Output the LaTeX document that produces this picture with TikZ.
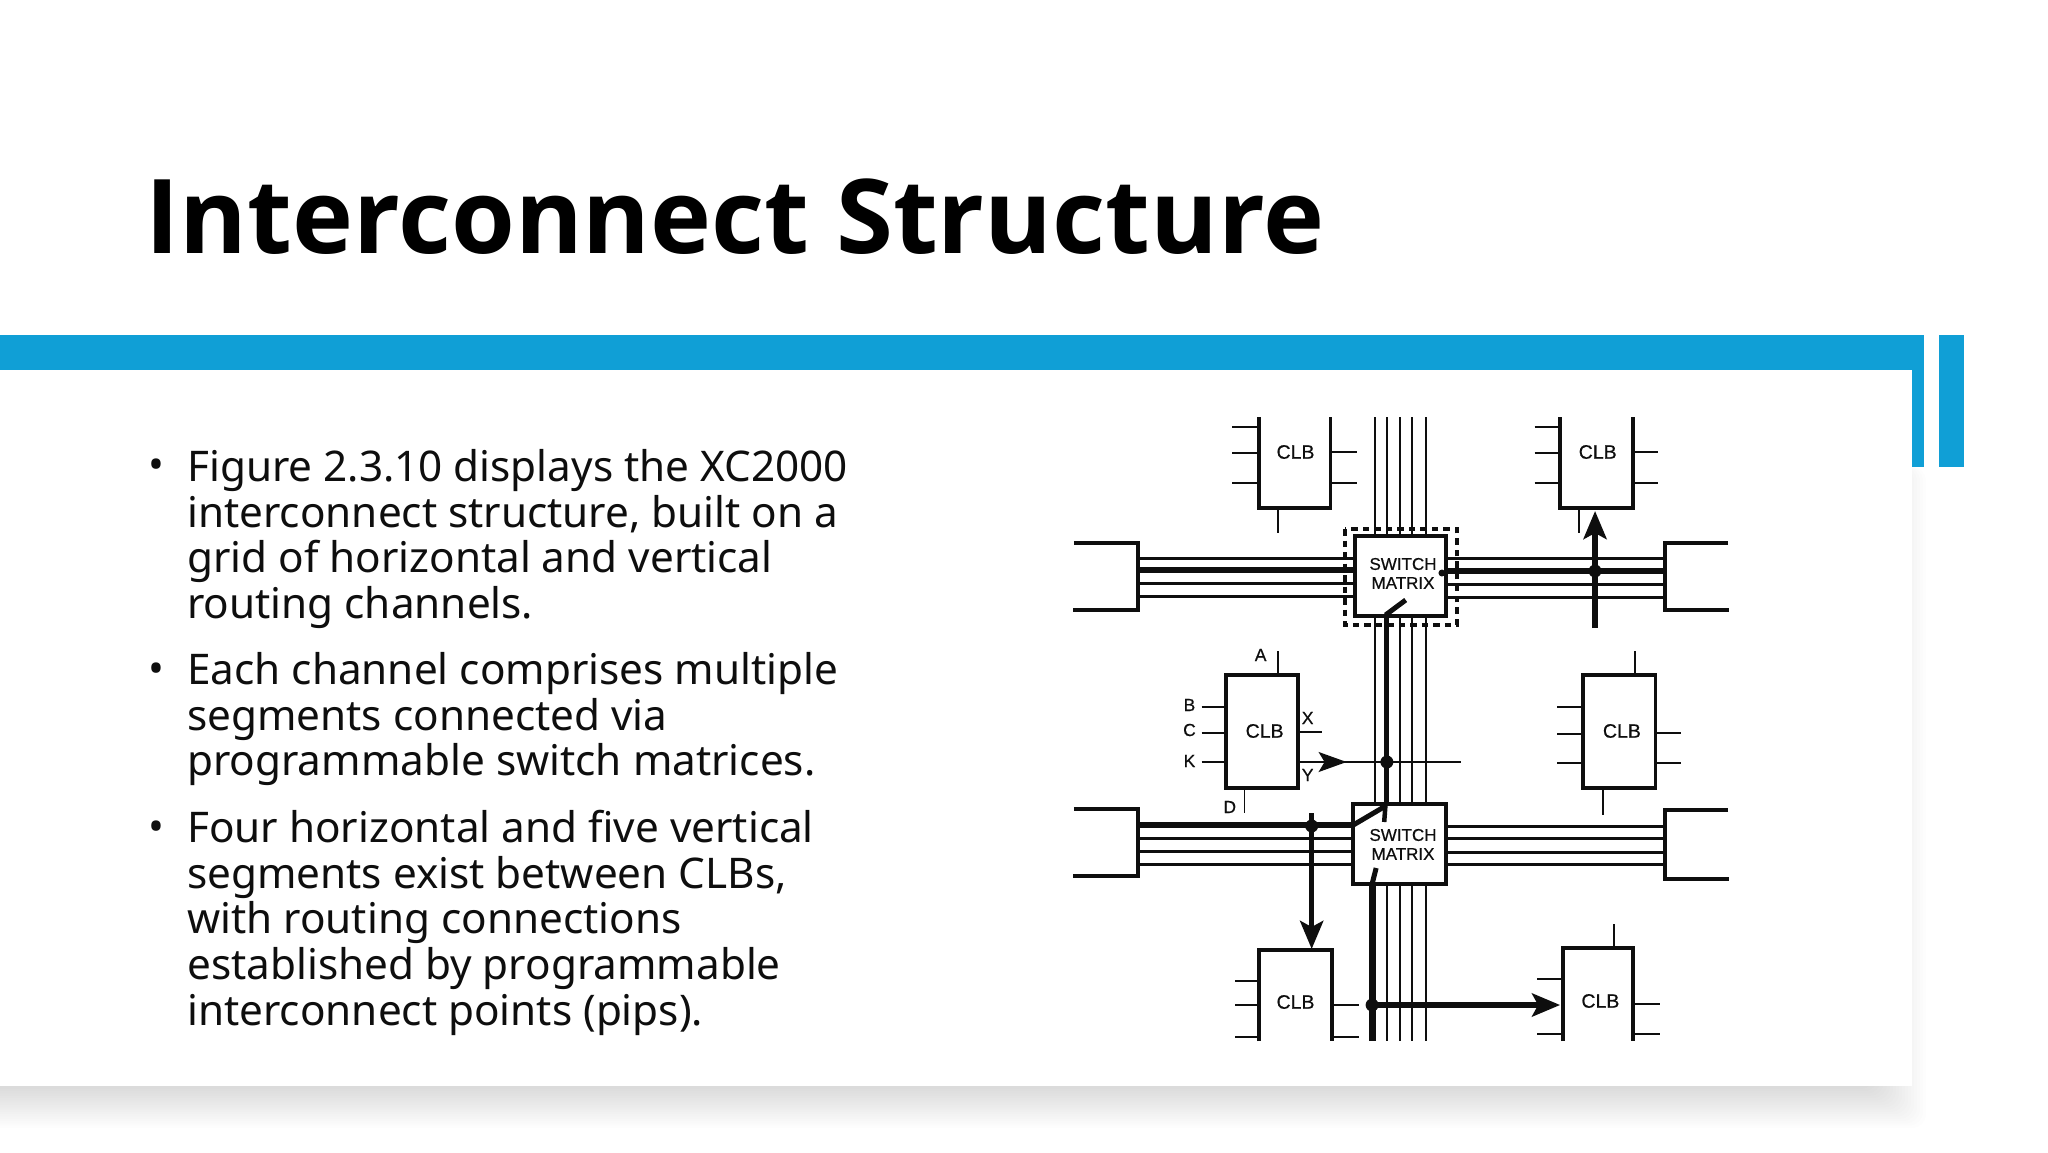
\documentclass[tikz,border=0pt]{standalone}
\usepackage{fontspec}
\setmainfont{Noto Sans}
\newfontfamily\titlefont{Open Sans}
\newfontfamily\figfont[FakeBold=0.6]{Liberation Sans}
\usetikzlibrary{arrows.meta}
\definecolor{band}{HTML}{109FD6}
\definecolor{ink}{HTML}{0E0E0E}
\newcount\lnkno
% one connector between two named free ends
\newcommand{\lnk}[5][thinwire]{\global\advance\lnkno by 1
  \coordinate (p\the\lnkno a) at (#2,#3);
  \coordinate (p\the\lnkno b) at (#4,#5);
  \draw[#1] (p\the\lnkno a) -- (p\the\lnkno b);}
\tikzset{
  x=1pt,y=-1pt,
  thinwire/.style={draw=ink,line width=1.7pt},
  pinwire/.style={draw=ink,line width=2.2pt},
  chanwire/.style={draw=ink,line width=3pt},
  vertwire/.style={draw=ink,line width=2pt},
  boldwire/.style={draw=ink,line width=6.5pt},
  boxline/.style={draw=ink,line width=3.8pt},
  endline/.style={draw=ink,line width=4pt},
  arrowwire/.style={draw=ink,line width=5.5pt,-{Stealth[length=28pt,width=23pt,inset=6pt]}},
  dot/.style={circle,fill=ink,inner sep=0pt,minimum size=13pt},
  clbtext/.style={font=\figfont\fontsize{19.5}{22}\selectfont,text=ink,inner sep=0pt},
  smtext/.style={font=\figfont\fontsize{17}{19}\selectfont,text=ink,inner sep=0pt,align=center},
  pintext/.style={font=\figfont\fontsize{17.5}{18}\selectfont,text=ink,inner sep=0pt},
  body/.style={anchor=north west,inner sep=0pt,align=left,text=ink,font=\fontsize{42.25}{45.7}\selectfont},
  bul/.style={anchor=north west,inner sep=0pt,text=ink,font=\fontsize{42.25}{45.7}\selectfont},
  shadowstep/.style={fill=black,fill opacity=0.008,draw=none,rounded corners=14pt},
}
\begin{document}
\begin{tikzpicture}
\useasboundingbox (0,0) rectangle (2048,1152);
\fill[white] (0,0) rectangle (2048,1152);
% shadow of the panel
\foreach \i in {0,...,17}{
  \fill[shadowstep] (-40,467) rectangle ({1926-\i*3},{1128-\i*2.3});
}
\fill[white] (0,370) rectangle (1912,1086);
% accent band
\fill[band] (0,335) rectangle (1924,370);
\fill[band] (1912,335) rectangle (1924,467);
\fill[band] (1939,335) rectangle (1964,467);
% title and text
\node[anchor=base west,inner sep=0pt,text=black,font=\titlefont\bfseries\fontsize{103.2}{110}\selectfont] (title) at (145.5,253.5) {Interconnect Structure};
\node[bul] (b1) at (148,459) {•};
\node[body] (t1) at (187,449) {Figure 2.3.10 displays the XC2000\\interconnect structure, built on a\\grid of horizontal and vertical\\routing channels.};
\node[bul] (b2) at (148,663) {•};
\node[body] (t2) at (187,652) {Each channel comprises multiple\\segments connected via\\programmable switch matrices.};
\node[bul] (b3) at (148,821) {•};
\node[body] (t3) at (187,810) {Four horizontal and five vertical\\segments exist between CLBs,\\with routing connections\\established by programmable\\interconnect points (pips).};
\begin{scope}[x=1.343pt,xshift=-364.4pt]
% vertical channel
\foreach \vx in {1295,1304,1314,1323,1333}{\lnk[vertwire]{\vx}{417}{\vx}{1041}}
% horizontal channels
\foreach \ya/\yb in {558/558,583/584,596/597}{\lnk[chanwire]{1119}{\ya}{1280}{\ya}\lnk[chanwire]{1348}{\yb}{1511}{\yb}}
\foreach \ya/\yb in {838/838,851/852,864/864}{\lnk[chanwire]{1119}{\ya}{1280}{\ya}\lnk[chanwire]{1348}{\yb}{1511}{\yb}}
\lnk[chanwire]{1348}{826}{1511}{826}
\lnk[boldwire]{1119}{570}{1280}{570}
\lnk[boldwire]{1348}{571}{1511}{571}
\lnk[boldwire]{1119}{825}{1279}{825}
% channel end brackets
\draw[endline] (1071,543) -| (1119,610) -- (1070,610);
\draw[endline] (1558,543) -| (1511,610) -- (1559,610);
\draw[endline] (1071,809) -| (1119,876) -- (1070,876);
\draw[endline] (1558,810) -| (1511,879) -- (1559,879);
% open CLBs, top row
\draw[boxline] (1209,417) |- (1262,508) -- (1262,417);
\draw[boxline] (1433,417) |- (1487,508) -- (1487,417);
\node[clbtext] (c1) at (1236,452) {CLB};
\node[clbtext] (c2) at (1461,452) {CLB};
\foreach \py in {427,453,483}{\lnk[pinwire]{1189}{\py}{1209}{\py}\lnk[pinwire]{1414}{\py}{1433}{\py}}
\foreach \py in {452,483}{\lnk[pinwire]{1262}{\py}{1282}{\py}\lnk[pinwire]{1487}{\py}{1506}{\py}}
\lnk[pinwire]{1223}{508}{1223}{533}
\lnk[pinwire]{1447}{508}{1447}{533}
% middle CLBs
\draw[boxline] (1184,675) rectangle (1238,788);
\draw[boxline] (1450,675) rectangle (1504,788);
\node[clbtext] (c3) at (1213,731) {CLB};
\node[clbtext] (c4) at (1479,731) {CLB};
\lnk{1223}{651}{1223}{675}
\lnk{1166}{707}{1184}{707}
\lnk{1166}{733}{1184}{733}
\lnk{1166}{762}{1184}{762}
\lnk{1238}{732}{1256}{732}
\lnk{1198}{788}{1198}{813}
\lnk{1238}{762}{1359}{762}
\lnk[pinwire]{1489}{651}{1489}{675}
\lnk[pinwire]{1431}{707}{1450}{707}
\lnk[pinwire]{1431}{734}{1450}{734}
\lnk[pinwire]{1431}{763}{1450}{763}
\lnk[pinwire]{1504}{733}{1523}{733}
\lnk[pinwire]{1504}{763}{1523}{763}
\lnk[pinwire]{1465}{788}{1465}{815}
\node[pintext] (la) at (1210,655) {A};
\node[pintext] (lb) at (1157,705) {B};
\node[pintext] (lc) at (1157,730) {C};
\node[pintext] (lk) at (1157,761) {K};
\node[pintext] (lx) at (1245,718) {X};
\node[pintext] (ly) at (1245,775) {Y};
\node[pintext] (ld) at (1187,807) {D};
% open CLBs, bottom row
\draw[boxline] (1209,1041) |- (1263,950) -- (1263,1041);
\draw[boxline] (1435,1041) |- (1487,948) -- (1487,1041);
\node[clbtext] (c5) at (1236,1002) {CLB};
\node[clbtext] (c6) at (1463,1001) {CLB};
\foreach \py in {981,1005,1037}{\lnk[pinwire]{1191}{\py}{1209}{\py}}
\foreach \py in {1005,1037}{\lnk[pinwire]{1263}{\py}{1283}{\py}}
\foreach \py in {979,1034}{\lnk[pinwire]{1416}{\py}{1435}{\py}}
\foreach \py in {1004,1034}{\lnk[pinwire]{1487}{\py}{1507}{\py}}
\lnk[pinwire]{1473}{924}{1473}{948}
% switch matrices
\draw[boxline,line width=4.2pt,dash pattern=on 6.5pt off 5pt] (1273,529) rectangle (1356,625);
\node[boxline,fill=white,minimum width=91pt,minimum height=80pt,inner sep=0pt,line width=4pt] (sm1) at (1314,576) {};
\node[boxline,fill=white,minimum width=92.5pt,minimum height=80pt,inner sep=0pt,line width=4pt] (sm2) at (1313.5,844) {};
\node[smtext] (s1a) at (1316,564) {SWITCH};
\node[smtext] (s1b) at (1316,583) {MATRIX};
\node[smtext] (s2a) at (1316,835) {SWITCH};
\node[smtext] (s2b) at (1316,854) {MATRIX};
% highlighted routes
\lnk[boldwire,line width=5pt]{1304}{616}{1304}{804}
\lnk[boldwire,line width=5pt]{1303}{615}{1318}{600}
\lnk[boldwire,line width=5pt]{1279}{825}{1303}{806}
\lnk[boldwire,line width=4.5pt]{1303}{804}{1302}{822}
\lnk[boldwire]{1293}{884}{1293}{1041}
\lnk[boldwire,line width=5pt]{1293}{884}{1296}{868}
\lnk[arrowwire]{1459}{628}{1459}{511}
\lnk[arrowwire]{1248}{813}{1248}{949}
\lnk[arrowwire]{1293}{1005}{1433}{1005}
\coordinate (ya) at (1256,762);
\coordinate (yb) at (1274,762);
\draw[draw=ink,line width=1.7pt,-{Stealth[length=28pt,width=20pt,inset=6pt]}] (ya) -- (yb);
\node[dot] (d1) at (1459,571) {};
\node[dot,minimum size=7pt] (d2) at (1345,573) {};
\node[dot] (d3) at (1304,762) {};
\node[dot] (d4) at (1248,826) {};
\node[dot] (d5) at (1293,1005) {};
\end{scope}
\end{tikzpicture}
\end{document}
